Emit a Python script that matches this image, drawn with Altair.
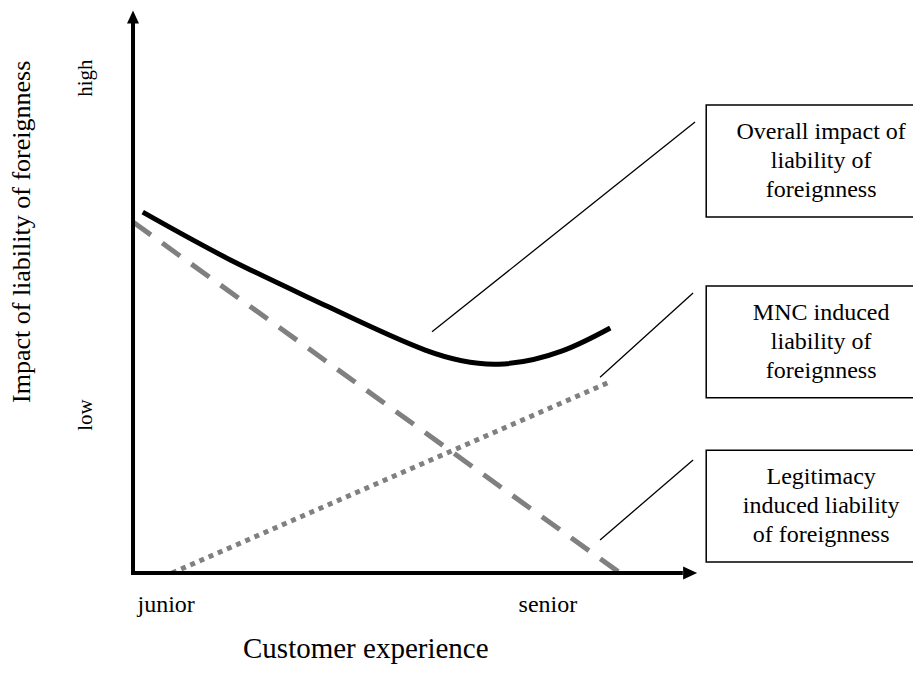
import altair as alt
import pandas as pd

# ---- data (conceptual units: x = customer experience, y = impact) ----
overall_x = [2, 20, 40, 60, 75, 88, 98]
overall_y = [102.8, 89.2, 75.9, 63.5, 59.5, 63.2, 69.8]

legit_x = [0, 100]
legit_y = [100, 0]

mnc_x = [8, 98]
mnc_y = [0, 54.5]

box_labels = [
    ["Overall impact of", "liability of", "foreignness"],
    ["MNC induced", "liability of", "foreignness"],
    ["Legitimacy", "induced liability", "of foreignness"],
]
box_x1 = [117.7, 117.7, 117.7]
box_x2 = [175, 175, 175]
box_y1 = [133.3, 81.8, 35.0]
box_y2 = [101.4, 49.9, 3.1]
box_text_x = [141.3, 141.3, 141.3]
box_text_y = [125.6, 74.1, 27.4]

lead_x1 = [61.4, 95.9, 95.9]
lead_y1 = [68.7, 55.8, 9.4]
lead_x2 = [115.4, 115.0, 115.0]
lead_y2 = [128.5, 79.8, 32.2]

x_tick_labels = ["junior", "senior"]
x_tick_pos = [6.8, 85.2]
y_tick_labels = ["high", "low"]
y_tick_pos = [141.0, 45.0]

x_title = "Customer experience"
y_title = "Impact of liability of foreignness"

X_DOMAIN = [-25.67, 160.16]
Y_DOMAIN = [-26.21, 160.97]
FONT = "Liberation Serif"

xs = alt.Scale(domain=X_DOMAIN, nice=False, zero=False)
ys = alt.Scale(domain=Y_DOMAIN, nice=False, zero=False)


def X(f="x"):
    return alt.X(f, type="quantitative", scale=xs, axis=None)


def Y(f="y"):
    return alt.Y(f, type="quantitative", scale=ys, axis=None)


# series lines
overall = alt.Chart(pd.DataFrame({"x": overall_x, "y": overall_y})).mark_line(
    color="black", strokeWidth=5, interpolate="natural"
).encode(x=X(), y=Y())

legit = alt.Chart(pd.DataFrame({"x": legit_x, "y": legit_y})).mark_line(
    color="#808080", strokeWidth=5, strokeDash=[22, 14]
).encode(x=X(), y=Y())

mnc = alt.Chart(pd.DataFrame({"x": mnc_x, "y": mnc_y})).mark_line(
    color="#808080", strokeWidth=5, strokeDash=[5, 5]
).encode(x=X(), y=Y())

# axes
axes_df = pd.DataFrame({"x": [0, -0.4], "y": [-0.5, 0], "x2": [0, 112.9], "y2": [156.7, 0]})
axes = alt.Chart(axes_df).mark_rule(color="black", strokeWidth=4).encode(
    x=X(), y=Y(), x2="x2", y2="y2"
)

arrow_up = alt.Chart(pd.DataFrame({"x": [0], "y": [158.4]})).mark_point(
    shape="M0,-1L0.92,1L-0.92,1Z", size=169, filled=True, color="black", opacity=1, strokeWidth=0
).encode(x=X(), y=Y())

arrow_right = alt.Chart(pd.DataFrame({"x": [114.4], "y": [0]})).mark_point(
    shape="M1,0L-1,0.93L-1,-0.93Z", size=196, filled=True, color="black", opacity=1, strokeWidth=0
).encode(x=X(), y=Y())

# leader lines
leaders = alt.Chart(pd.DataFrame({"x": lead_x1, "y": lead_y1, "x2": lead_x2, "y2": lead_y2})).mark_rule(
    color="black", strokeWidth=1.3
).encode(x=X(), y=Y(), x2="x2", y2="y2")

# boxes
boxes = alt.Chart(pd.DataFrame({"x": box_x1, "y": box_y1, "x2": box_x2, "y2": box_y2})).mark_rect(
    fill="white", fillOpacity=0, stroke="black", strokeWidth=1.5
).encode(x=X(), y=Y(), x2="x2", y2="y2")

box_text = alt.Chart(pd.DataFrame({"x": box_text_x, "y": box_text_y, "t": box_labels})).mark_text(
    font=FONT, fontSize=24, lineHeight=29, align="center", baseline="middle", color="black"
).encode(x=X(), y=Y(), text="t:N")

# tick-like labels
xticks = alt.Chart(pd.DataFrame({"x": x_tick_pos, "y": [-11.1, -11.1], "t": x_tick_labels})).mark_text(
    font=FONT, fontSize=24, align="center", baseline="alphabetic", color="black"
).encode(x=X(), y=Y(), text="t:N")

yticks = alt.Chart(pd.DataFrame({"x": [-8.5, -8.5], "y": y_tick_pos, "t": y_tick_labels})).mark_text(
    font=FONT, fontSize=21, align="center", baseline="alphabetic", angle=270, color="black"
).encode(x=X(), y=Y(), text="t:N")

xtitle = alt.Chart(pd.DataFrame({"x": [47.8], "y": [-24.2], "t": [x_title]})).mark_text(
    font=FONT, fontSize=29, align="center", baseline="alphabetic", color="black"
).encode(x=X(), y=Y(), text="t:N")

ytitle = alt.Chart(pd.DataFrame({"x": [-21.1], "y": [97.2], "t": [y_title]})).mark_text(
    font=FONT, fontSize=26, align="center", baseline="alphabetic", angle=270, color="black"
).encode(x=X(), y=Y(), text="t:N")

chart = alt.layer(
    legit, mnc, overall, axes, arrow_up, arrow_right, leaders, boxes, box_text,
    xticks, yticks, xtitle, ytitle
).properties(
    width=905, height=657, padding=0, autosize=alt.AutoSizeParams(type="none")
).configure_view(stroke=None)

chart.save("out.html", embed_options={"renderer": "svg", "actions": False})
